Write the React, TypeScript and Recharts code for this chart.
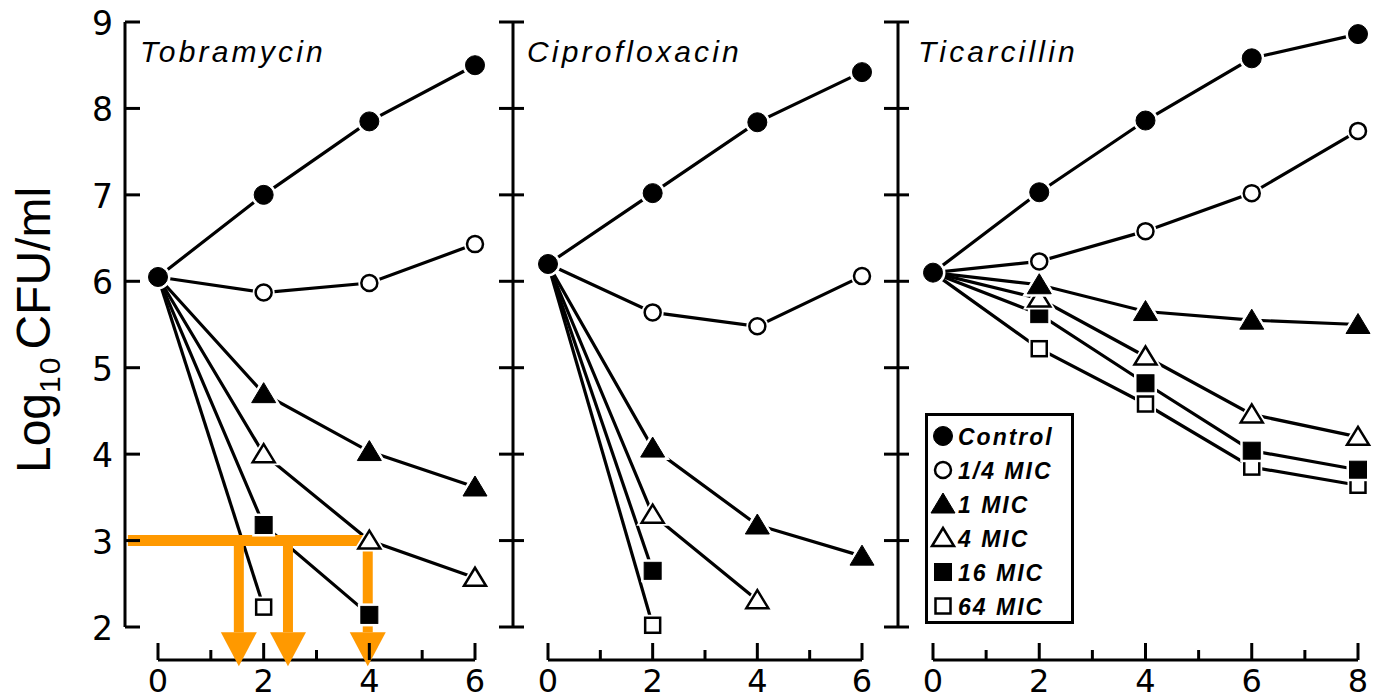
import { LineChart, Line, XAxis, YAxis, ReferenceLine, ReferenceDot, Legend } from 'recharts'

type Kind = 'control' | 'quarter' | 'one' | 'four' | 'sixteen' | 'sixtyFour'

const kinds: Kind[] = ['control', 'quarter', 'one', 'four', 'sixteen', 'sixtyFour']
const seriesNames = ['Control', '1/4 MIC', '1 MIC', '4 MIC', '16 MIC', '64 MIC']

const tobraHours = [0, 2, 4, 6]
const tobraControl = [6.05, 7.0, 7.85, 8.5]
const tobraQuarter = [6.05, 5.87, 5.98, 6.43]
const tobraOne = [6.05, 4.7, 4.03, 3.62]
const tobraFour = [6.05, 4.0, 3.0, 2.57]
const tobraSixteen = [6.05, 3.18, 2.14]
const tobraSixtyFour = [6.05, 2.23]

const ciproHours = [0, 2, 4, 6]
const ciproControl = [6.2, 7.02, 7.84, 8.42]
const ciproQuarter = [6.2, 5.64, 5.48, 6.06]
const ciproOne = [6.2, 4.07, 3.18, 2.82]
const ciproFour = [6.2, 3.3, 2.31]
const ciproSixteen = [6.2, 2.65]
const ciproSixtyFour = [6.2, 2.02]

const ticarHours = [0, 2, 4, 6, 8]
const ticarControl = [6.1, 7.03, 7.86, 8.58, 8.86]
const ticarQuarter = [6.1, 6.23, 6.58, 7.02, 7.74]
const ticarOne = [6.1, 5.96, 5.65, 5.55, 5.5]
const ticarFour = [6.1, 5.8, 5.13, 4.46, 4.2]
const ticarSixteen = [6.1, 5.62, 4.82, 4.04, 3.82]
const ticarSixtyFour = [6.1, 5.22, 4.58, 3.85, 3.64]

const yTicks = [2, 3, 4, 5, 6, 7, 8, 9]
const sixHourTicks = [0, 1, 2, 3, 4, 5, 6]
const eightHourTicks = [0, 1, 2, 3, 4, 5, 6, 7, 8]

// orange annotation on the tobramycin panel
const threshold = 3
const thresholdStart = -0.57
const thresholdEnd = 4.07
const crossingHours = [1.53, 2.46, 3.97]
const arrowHeadTop = 1.94

const AXIS_DROP = 33
const PLOT_TOP = 22
const PLOT_BOTTOM = 627
const axisLevel = 2 - AXIS_DROP / ((PLOT_BOTTOM - PLOT_TOP) / 7)
const ORANGE = '#FF9900'

function buildRows(hours: number[], series: number[][]) {
  return hours.map((hour, i) => {
    const row: Record<string, number | undefined> = { hour }
    series.forEach((values, k) => {
      row[kinds[k]] = values[i]
    })
    return row
  })
}

function markerShape(kind: Kind, cx: number, cy: number, halo: boolean, key?: string) {
  const filled = kind === 'control' || kind === 'one' || kind === 'sixteen'
  const fill = halo ? '#fff' : filled ? '#000' : '#fff'
  const stroke = halo ? '#fff' : '#000'
  const sw = halo ? 6 : filled ? 1 : 2.5
  if (kind === 'control' || kind === 'quarter') {
    const r = kind === 'control' ? 9.5 : 8
    return <circle key={key} cx={cx} cy={cy} r={r} fill={fill} stroke={stroke} strokeWidth={sw} />
  }
  if (kind === 'one' || kind === 'four') {
    const w = kind === 'one' ? 12 : 11
    const top = kind === 'one' ? 11 : 10
    const bottom = kind === 'one' ? 9 : 8
    const pts = `${cx},${cy - top} ${cx - w},${cy + bottom} ${cx + w},${cy + bottom}`
    return <polygon key={key} points={pts} fill={fill} stroke={stroke} strokeWidth={sw} strokeLinejoin="miter" />
  }
  const s = kind === 'sixteen' ? 17 : 15
  return <rect key={key} x={cx - s / 2} y={cy - s / 2} width={s} height={s} fill={fill} stroke={stroke} strokeWidth={sw} />
}

function makeDot(kind: Kind) {
  return (props: any) => {
    const { cx, cy, index, value } = props
    const k = `${kind}-${index}`
    if (cx == null || cy == null || value == null || (index === 0 && kind !== 'control')) {
      return <g key={k} />
    }
    return (
      <g key={k}>
        {markerShape(kind, cx, cy, true)}
        {markerShape(kind, cx, cy, false)}
      </g>
    )
  }
}

function XTick(props: any) {
  const { x, y, payload } = props
  const major = payload.value % 2 === 0
  const base = y + AXIS_DROP
  return (
    <g>
      <line x1={x} x2={x} y1={base} y2={base - (major ? 17 : 10)} stroke="#000" strokeWidth={3} />
      {major && (
        <text x={x} y={base + 32} textAnchor="middle" fontSize={32} fontFamily="DejaVu Sans" fill="#000">
          {payload.value}
        </text>
      )}
    </g>
  )
}

function makeYTick(leftLen: number, rightLen: number, labels: boolean) {
  return (props: any) => {
    const { x, y, payload } = props
    return (
      <g>
        <line x1={x - leftLen} x2={x + rightLen} y1={y} y2={y} stroke="#000" strokeWidth={3} />
        {labels && (
          <text x={x - 12} y={y + 13} textAnchor="end" fontSize={33} fontFamily="DejaVu Sans" fill="#000">
            {payload.value}
          </text>
        )}
      </g>
    )
  }
}

function makeTitle(title: string, dx: number, withYLabel: boolean) {
  return (props: any) => {
    const vb = props.viewBox || { x: 0, width: 0 }
    return (
      <g>
        <text
          x={vb.x + vb.width + dx}
          y={62}
          fontSize={30}
          fontStyle="italic"
          fontFamily="Liberation Sans"
          letterSpacing={3.2}
          fill="#000"
        >
          {title}
        </text>
        {withYLabel && (
          <text
            transform="translate(50, 330) rotate(-90)"
            textAnchor="middle"
            fontSize={48}
            fontFamily="Liberation Sans"
            fill="#000"
          >
            Log
            <tspan fontSize={30} dy={10} letterSpacing={2}>10</tspan>
            <tspan dy={-10} dx={6}>CFU/ml</tspan>
          </text>
        )}
      </g>
    )
  }
}

function LegendBox() {
  return (
    <svg width={150} height={212} style={{ display: 'block' }}>
      <rect x={1.5} y={1.5} width={146} height={208} fill="#fff" stroke="#000" strokeWidth={3} />
      {kinds.map((k, i) => (
        <g key={k}>
          {markerShape(k, 18, 23 + i * 34, false)}
          <text
            x={33}
            y={23 + i * 34 + 9}
            fontSize={23}
            fontStyle="italic"
            fontWeight="bold"
            fontFamily="Liberation Sans"
            letterSpacing={2}
            fill="#000"
          >
            {seriesNames[i]}
          </text>
        </g>
      ))}
    </svg>
  )
}

type PanelProps = {
  title: string
  hours: number[]
  series: number[][]
  xTicks: number[]
  left: number
  width: number
  yAxisWidth: number
  padLeft: number
  padRight: number
  titleDx: number
  first?: boolean
  last?: boolean
  arrows?: boolean
}

function Panel(p: PanelProps) {
  const rows = buildRows(p.hours, p.series)
  const maxHour = p.xTicks[p.xTicks.length - 1]
  return (
    <div style={{ position: 'absolute', left: p.left, top: 0 }}>
      <LineChart
        width={p.width}
        height={700}
        data={rows}
        margin={{ top: PLOT_TOP, right: 0, bottom: 0, left: 0 }}
      >
        <XAxis
          dataKey="hour"
          type="number"
          domain={[0, maxHour]}
          ticks={p.xTicks}
          interval={0}
          padding={{ left: p.padLeft, right: p.padRight }}
          height={700 - PLOT_BOTTOM}
          axisLine={false}
          tickLine={false}
          tickSize={0}
          tickMargin={0}
          tick={(t: any) => <XTick {...t} />}
        />
        <YAxis
          type="number"
          domain={[2, 9]}
          ticks={yTicks}
          interval={0}
          width={p.yAxisWidth}
          axisLine={{ stroke: '#000', strokeWidth: 3 }}
          tickLine={false}
          tickSize={0}
          tickMargin={0}
          tick={p.first ? makeYTick(0, 15, true) : makeYTick(14, 11, false)}
          label={{ value: p.title, content: makeTitle(p.title, p.titleDx, !!p.first) }}
        />
        {p.last && (
          <YAxis
            yAxisId="edge"
            orientation="right"
            type="number"
            domain={[2, 9]}
            ticks={yTicks}
            interval={0}
            width={1}
            axisLine={false}
            tickLine={false}
            tickSize={0}
            tickMargin={0}
            tick={makeYTick(12, 1, false)}
          />
        )}
        <ReferenceLine
          segment={[{ x: 0, y: axisLevel }, { x: maxHour, y: axisLevel }]}
          stroke="#000"
          strokeWidth={3}
          ifOverflow="visible"
        />
        {[...kinds].reverse().map((k) => (
          <Line
            key={k}
            dataKey={k}
            type="linear"
            stroke="#000"
            strokeWidth={3.2}
            dot={makeDot(k)}
            activeDot={false}
            legendType="none"
            isAnimationActive={false}
          />
        ))}
        {p.arrows && (
          <ReferenceLine
            segment={[{ x: thresholdStart, y: threshold }, { x: thresholdEnd, y: threshold }]}
            stroke={ORANGE}
            strokeWidth={11}
            ifOverflow="visible"
          />
        )}
        {p.arrows &&
          crossingHours.map((h) => (
            <ReferenceLine
              key={`shaft-${h}`}
              segment={[{ x: h, y: threshold }, { x: h, y: arrowHeadTop }]}
              stroke={ORANGE}
              strokeWidth={10}
              ifOverflow="visible"
            />
          ))}
        {p.arrows &&
          crossingHours.map((h) => (
            <ReferenceDot
              key={`head-${h}`}
              x={h}
              y={arrowHeadTop}
              r={1}
              ifOverflow="visible"
              shape={(s: any) => (
                <polygon
                  points={`${s.cx - 18},${s.cy} ${s.cx + 18},${s.cy} ${s.cx},${s.cy + 34}`}
                  fill={ORANGE}
                />
              )}
            />
          ))}
        {p.last && (
          <Legend
            layout="vertical"
            align="center"
            verticalAlign="middle"
            wrapperStyle={{ left: 55, top: 413, width: 150, height: 212 }}
            content={() => <LegendBox />}
          />
        )}
      </LineChart>
    </div>
  )
}

export default function App() {
  return (
    <div
      style={{
        position: 'absolute',
        left: 0,
        top: 0,
        width: 1385,
        height: 700,
        background: '#fff',
        overflow: 'hidden',
      }}
    >
      <Panel
        title="Ciprofloxacin"
        hours={ciproHours}
        series={[ciproControl, ciproQuarter, ciproOne, ciproFour, ciproSixteen, ciproSixtyFour]}
        xTicks={sixHourTicks}
        left={480}
        width={405}
        yAxisWidth={33}
        padLeft={35}
        padRight={23}
        titleDx={14}
      />
      <Panel
        title="Ticarcillin"
        hours={ticarHours}
        series={[ticarControl, ticarQuarter, ticarOne, ticarFour, ticarSixteen, ticarSixtyFour]}
        xTicks={eightHourTicks}
        left={870}
        width={515}
        yAxisWidth={28}
        padLeft={35}
        padRight={26}
        titleDx={20}
        last
      />
      <Panel
        title="Tobramycin"
        hours={tobraHours}
        series={[tobraControl, tobraQuarter, tobraOne, tobraFour, tobraSixteen, tobraSixtyFour]}
        xTicks={sixHourTicks}
        left={0}
        width={497}
        yAxisWidth={125}
        padLeft={33}
        padRight={22}
        titleDx={15}
        first
        arrows
      />
    </div>
  )
}
